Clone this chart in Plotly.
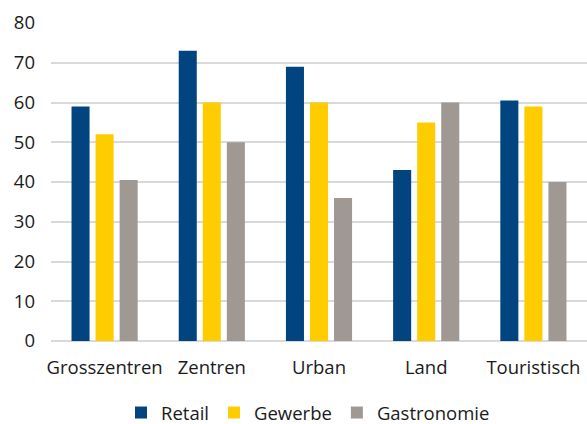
import plotly.graph_objects as go

categories = ["Grosszentren", "Zentren", "Urban", "Land", "Touristisch"]
retail = [59, 73, 69, 43, 60.5]
gewerbe = [52, 60, 60, 55, 59]
gastronomie = [40.5, 50, 36, 60, 40]
y_ticks = [0, 10, 20, 30, 40, 50, 60, 70, 80]

series = [("Retail", retail, "#02447f"), ("Gewerbe", gewerbe, "#ffcc00"), ("Gastronomie", gastronomie, "#9f9893")]

fig = go.Figure()
for name, vals, col in series:
    fig.add_trace(go.Bar(x=categories, y=vals, name=name, marker=dict(color=col, line=dict(width=0))))

fig.update_layout(
    width=587, height=424,
    margin=dict(l=51, r=0, t=23, b=83, autoexpand=False),
    paper_bgcolor="white", plot_bgcolor="white",
    barmode="group", bargap=0.327, bargroupgap=0.25,
    font=dict(family="Open Sans", size=18.5, color="#1a1a1a"),
    showlegend=True,
    legend=dict(orientation="h", x=(308 - 51) / 536, xanchor="center", y=-(413 - 341) / 318,
                yanchor="middle", traceorder="normal", font=dict(size=18.5), bgcolor="rgba(0,0,0,0)"),
    xaxis=dict(showgrid=False, ticks="", ticklabelstandoff=13, showline=False, automargin=False),
    yaxis=dict(range=[0, 80], tickvals=y_ticks, showgrid=True, gridcolor="#d9d9d9", gridwidth=1.5,
               zeroline=True, zerolinecolor="#d9d9d9", zerolinewidth=1.5, ticks="", ticklabelstandoff=15,
               automargin=False),
)
fig.write_html("out.html")
